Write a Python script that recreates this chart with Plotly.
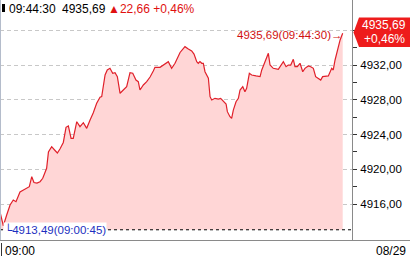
import plotly.graph_objects as go

# ---------------- data ----------------
secs_after_0900 = [19, 45, 71, 97, 122, 143, 174, 200, 226, 246, 265, 282, 305, 329, 350, 367, 380, 394,
                   419, 445, 463, 483, 509, 530, 548, 569, 586, 613, 638, 664, 690, 716, 741, 767, 793, 806,
                   832, 849, 870, 891, 909, 927, 948, 973, 999, 1025, 1046, 1071, 1089, 1102, 1128, 1154,
                   1180, 1205, 1218, 1257, 1296, 1321, 1347, 1373, 1412, 1450, 1476, 1502, 1520, 1541, 1553,
                   1566, 1580, 1592, 1605, 1631, 1644, 1657, 1682, 1708, 1726, 1747, 1768, 1778, 1798, 1811,
                   1824, 1845, 1863, 1876, 1897, 1914, 1927, 1948, 1966, 2000, 2031, 2044, 2069, 2095, 2108,
                   2133, 2172, 2198, 2211, 2232, 2249, 2268, 2288, 2301, 2319, 2340, 2361, 2378, 2404, 2423,
                   2443, 2461, 2481, 2500, 2515, 2546, 2559, 2585, 2597, 2611, 2628, 2650, 2670]
index_values = [4915.11, 4913.49, 4914.73, 4915.89, 4916.46, 4916.27, 4917.39, 4917.62, 4917.79, 4918.00,
                4919.15, 4918.48, 4918.42, 4918.57, 4918.97, 4919.73, 4920.12, 4922.00, 4922.61, 4922.17,
                4921.88, 4922.35, 4923.10, 4924.85, 4925.00, 4923.58, 4923.58, 4925.49, 4924.92, 4925.38,
                4924.73, 4925.69, 4926.53, 4927.62, 4928.31, 4928.38, 4930.88, 4931.46, 4931.65, 4931.08,
                4931.15, 4930.69, 4928.77, 4929.15, 4929.53, 4931.15, 4931.08, 4930.30, 4930.11, 4929.15,
                4929.73, 4930.11, 4930.65, 4931.34, 4931.77, 4931.77, 4932.15, 4932.42, 4931.65, 4932.23,
                4933.48, 4934.15, 4933.88, 4933.65, 4933.30, 4932.42, 4932.23, 4932.42, 4932.23, 4932.23,
                4931.26, 4930.50, 4928.38, 4928.00, 4928.19, 4928.11, 4928.19, 4927.80, 4927.54, 4926.65,
                4926.07, 4925.89, 4926.84, 4927.80, 4928.19, 4929.15, 4929.53, 4928.95, 4929.35, 4931.08,
                4930.88, 4930.77, 4930.69, 4931.46, 4932.42, 4933.38, 4932.03, 4931.65, 4931.54, 4932.23,
                4932.42, 4931.84, 4932.03, 4932.03, 4932.69, 4931.84, 4931.84, 4932.23, 4931.26, 4931.65,
                4931.92, 4931.84, 4931.65, 4930.69, 4930.50, 4930.30, 4930.69, 4930.69, 4930.77, 4931.65,
                4931.46, 4932.61, 4933.76, 4934.92, 4935.69]
prev_close = 4913.03
last_value = 4935.69
last_time = "09:44:30"
change = 22.66
change_pct = "+0,46%"
low_value = 4913.49
low_time = "09:00:45"
y_ticks = [4916, 4920, 4924, 4928, 4932, 4936]
y_tick_text = ["4916,00", "4920,00", "4924,00", "4928,00", "4932,00", ""]
y_minor_ticks = [4918, 4922, 4926, 4930, 4934]
x_start_label = "09:00"
date_label = "08/29"

# ---------------- layout helpers (pixels -> paper) ----------------
W, H = 410, 262
ML, MR, MT, MB = 0, 58, 0, 22
PW, PH = W - ML - MR, H - MT - MB


def px(x):
    return (x - ML) / PW


def py(y):
    return (PH + MT - y) / PH


FONT = "Liberation Sans"
RED = "#e0202a"

fig = go.Figure()
fig.add_trace(go.Scatter(x=secs_after_0900, y=[prev_close] * len(secs_after_0900), mode="lines",
                         line=dict(width=0, color="rgba(0,0,0,0)"), hoverinfo="skip", showlegend=False))
fig.add_trace(go.Scatter(x=secs_after_0900, y=index_values, mode="lines", fill="tonexty",
                         fillcolor="#ffd6d6", line=dict(color=RED, width=1.2), showlegend=False))

shapes = [
    # previous close dashed line
    dict(type="line", xref="paper", yref="y", x0=0, x1=1, y0=prev_close, y1=prev_close,
         line=dict(color="black", width=1, dash="3px,3px")),
    # bottom bar separator
    dict(type="line", xref="paper", yref="paper", x0=px(0), x1=px(410), y0=py(240.5), y1=py(240.5),
         line=dict(color="#8a8a8a", width=1)),
    # left border
    dict(type="line", xref="paper", yref="paper", x0=px(0.5), x1=px(0.5), y0=py(0), y1=py(240),
         line=dict(color="#b4bccb", width=1)),
    # small tick at bottom-left
    dict(type="line", xref="paper", yref="paper", x0=px(1.5), x1=px(1.5), y0=py(243), y1=py(256),
         line=dict(color="#333", width=1)),
    # header marker
    dict(type="rect", xref="paper", yref="paper", x0=px(2), x1=px(5), y0=py(4), y1=py(12),
         fillcolor="black", line=dict(width=0)),
    # last value tag
    dict(type="path", xref="paper", yref="paper",
         path=f"M {px(353.5)},{py(32.5)} L {px(359)},{py(17.5)} L {px(410)},{py(17.5)} "
              f"L {px(410)},{py(47)} L {px(359)},{py(47)} Z",
         fillcolor="#ee1c1c", line=dict(width=0), layer="above"),
]

annotations = [
    dict(text="09:44:30", x=px(7), y=py(9), xanchor="left", yanchor="middle",
         font=dict(size=12, color="black", family=FONT)),
    dict(text=f"{last_value:.2f}".replace(".", ","), x=px(60), y=py(9), xanchor="left", yanchor="middle",
         font=dict(size=12, color="black", family=FONT)),
    dict(text=f"▲{change:.2f}".replace(".", ",") + " " + change_pct, x=px(106), y=py(9),
         xanchor="left", yanchor="middle", font=dict(size=12, color="#e01010", family=FONT)),
    dict(text=f"{last_value:.2f}".replace(".", ",") + f"({last_time})→", x=px(345), y=py(35),
         xanchor="right", yanchor="middle", font=dict(size=11.5, color="#d01010", family=FONT)),
    dict(text=f"{last_value:.2f}".replace(".", ","), x=px(384), y=py(25.5), xanchor="center",
         yanchor="middle", font=dict(size=12, color="white", family=FONT)),
    dict(text=change_pct, x=px(384), y=py(39.5), xanchor="center", yanchor="middle",
         font=dict(size=12, color="white", family=FONT)),
    dict(text=f"└{low_value:.2f}".replace(".", ",") + f"({low_time})", x=px(3), y=py(229.5),
         xanchor="left", yanchor="middle", bgcolor="white", borderpad=0,
         font=dict(size=11.5, color="#1c2fc0", family=FONT)),
    dict(text=x_start_label, x=px(3), y=py(250.5), xanchor="left", yanchor="middle",
         font=dict(size=12, color="black", family=FONT)),
    dict(text=date_label, x=px(408), y=py(250.5), xanchor="right", yanchor="middle",
         font=dict(size=12, color="black", family=FONT)),
]
for a in annotations:
    a.update(xref="paper", yref="paper", showarrow=False)

fig.update_layout(
    width=W, height=H, margin=dict(l=ML, r=MR, t=MT, b=MB, pad=0),
    paper_bgcolor="white", plot_bgcolor="white",
    shapes=shapes, annotations=annotations, showlegend=False,
    xaxis=dict(range=[19.3, 2742], showgrid=False, zeroline=False, showticklabels=False,
               ticks="", showline=False, fixedrange=True),
    yaxis=dict(range=[4911.85, 4939.53], side="right", tickmode="array", tickvals=y_ticks,
               ticktext=y_tick_text, ticks="outside", ticklen=4, tickcolor="#333",
               showline=True, linecolor="#8a8a8a", linewidth=1, mirror=False,
               showgrid=True, gridcolor="#c8c8c8", griddash="4px,3px", gridwidth=1,
               zeroline=False, ticklabelstandoff=1,
               tickfont=dict(size=11.5, color="black", family=FONT),
               minor=dict(tickmode="array", tickvals=y_minor_ticks, ticks="outside", ticklen=4,
                          tickcolor="#333", showgrid=False),
               fixedrange=True),
)

fig.write_html("out.html")
